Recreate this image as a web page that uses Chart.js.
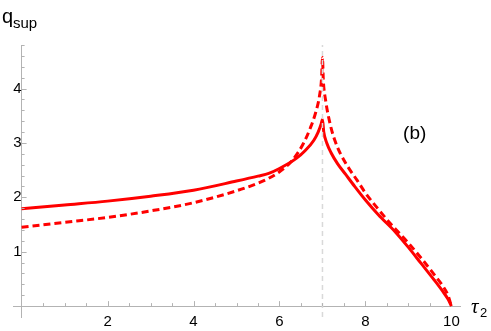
<!DOCTYPE html>
<html>
<head>
<meta charset="utf-8">
<script src="https://cdn.jsdelivr.net/npm/chart.js@4"></script>
<style>
  body { margin: 0; background: #fff; }
  canvas { display: block; }
</style>
</head>
<body>
<canvas id="chart" width="491" height="331"></canvas>
<script>
// solid curve
const solidX = [0, 1, 2, 3, 4, 5, 5.5, 5.75, 6, 6.4, 6.6, 6.8, 6.9, 6.97, 7, 7.03, 7.1, 7.2, 7.35, 7.54, 7.75, 8, 8.3, 8.7, 9, 9.3, 9.6, 9.8, 9.92, 10];
const solidY = [1.79, 1.86, 1.93, 2.02, 2.13, 2.30, 2.39, 2.44, 2.53, 2.72, 2.86, 3.05, 3.20, 3.35, 3.43, 3.20, 3.00, 2.82, 2.62, 2.42, 2.20, 1.95, 1.68, 1.36, 1.08, 0.78, 0.48, 0.27, 0.13, 0];

// dashed curve
const dashedX = [0, 1, 2, 3, 4, 5, 5.5, 5.75, 6, 6.3, 6.55, 6.72, 6.85, 6.93, 6.98, 7, 7.02, 7.07, 7.19, 7.3, 7.42, 7.6, 7.8, 8, 8.3, 8.6, 9, 9.3, 9.6, 9.8, 9.92, 10];
const dashedY = [1.45, 1.54, 1.63, 1.75, 1.90, 2.12, 2.26, 2.35, 2.47, 2.68, 2.98, 3.28, 3.58, 3.86, 4.2, 4.57, 4.15, 3.80, 3.31, 3.02, 2.80, 2.55, 2.32, 2.08, 1.78, 1.50, 1.16, 0.88, 0.58, 0.37, 0.20, 0];

// vertical guide at tau2 = 7
const guideX = [7, 7];
const guideY = [-0.2, 4.8];

const xTickLabels = [2, 4, 6, 8, 10];
const yTickLabels = [1, 2, 3, 4];

const red = '#ff0000';
const axisColor = '#b3b3b3';

Chart.defaults.borderColor = axisColor;

function pts(xs, ys) {
    return xs.map((x, i) => ({ x: x, y: ys[i] }));
}

function stepTicks(from, to, step) {
    const out = [];
    const n = Math.round((to - from) / step);
    for (let i = 0; i <= n; i++) out.push({ value: Math.round((from + i * step) * 100) / 100 });
    return out;
}

// small inward tick marks, axis titles and panel label
const extras = {
    id: 'extras',
    afterDraw(chart) {
        const ctx = chart.ctx;
        const xs = chart.scales.x, ys = chart.scales.y;
        const x0 = xs.getPixelForValue(0), y0 = ys.getPixelForValue(0);

        ctx.strokeStyle = axisColor;
        ctx.lineWidth = 1;
        ctx.setLineDash([]);
        ctx.beginPath();
        xs.ticks.forEach(t => {
            if (t.value <= 0 || t.value >= 10) return;
            const px = Math.round(xs.getPixelForValue(t.value)) + 0.5;
            const len = xTickLabels.includes(t.value) ? 5 : 3;
            ctx.moveTo(px, y0);
            ctx.lineTo(px, y0 - len);
        });
        ys.ticks.forEach(t => {
            if (t.value <= 0) return;
            const py = Math.round(ys.getPixelForValue(t.value)) + 0.5;
            const len = yTickLabels.includes(t.value) ? 5 : 3;
            ctx.moveTo(x0, py);
            ctx.lineTo(x0 + len, py);
        });
        ctx.stroke();

        ctx.fillStyle = '#000';
        ctx.textBaseline = 'alphabetic';
        ctx.textAlign = 'left';
        ctx.font = '20px sans-serif';
        ctx.fillText('q', 2, 23);
        ctx.font = '15px sans-serif';
        ctx.fillText('sup', 13, 27.5);

        ctx.font = 'italic 21px serif';
        ctx.fillText('τ', 471, 313);
        ctx.font = '13px sans-serif';
        ctx.fillText('2', 480, 317);

        ctx.font = '19px sans-serif';
        ctx.textAlign = 'center';
        ctx.textBaseline = 'middle';
        ctx.fillText('(b)', 414.7, 134);
    }
};

new Chart(document.getElementById('chart'), {
    type: 'line',
    data: {
        datasets: [
            {
                data: pts(guideX, guideY),
                borderColor: '#d9d9d9',
                borderWidth: 1.5,
                borderDash: [5, 4],
                pointRadius: 0
            },
            {
                data: pts(solidX, solidY),
                borderColor: red,
                borderWidth: 3,
                pointRadius: 0,
                cubicInterpolationMode: 'monotone'
            },
            {
                data: pts(dashedX, dashedY),
                borderColor: red,
                borderWidth: 3,
                borderDash: [7, 4],
                pointRadius: 0,
                cubicInterpolationMode: 'monotone'
            }
        ]
    },
    options: {
        responsive: false,
        animation: false,
        devicePixelRatio: 1,
        layout: { padding: { left: 13, right: 31, top: 45, bottom: 14 } },
        plugins: { legend: { display: false } },
        scales: {
            x: {
                type: 'linear',
                min: -0.2,
                max: 10.2,
                position: { y: 0 },
                grid: { display: false, drawTicks: false },
                afterBuildTicks: s => { s.ticks = stepTicks(0, 10, 0.5); },
                ticks: {
                    autoSkip: false,
                    maxRotation: 0,
                    padding: 7,
                    color: '#000',
                    font: { family: 'Liberation Sans', size: 15 },
                    callback: v => xTickLabels.includes(v) ? String(v) : ''
                }
            },
            y: {
                type: 'linear',
                min: -0.2,
                max: 4.8,
                position: { x: 0 },
                grid: { display: false, drawTicks: false },
                afterBuildTicks: s => { s.ticks = stepTicks(0, 4.8, 0.2); },
                ticks: {
                    autoSkip: false,
                    padding: 5,
                    color: '#000',
                    font: { family: 'Liberation Sans', size: 15 },
                    callback: v => yTickLabels.includes(v) ? String(v) : ''
                }
            }
        }
    },
    plugins: [extras]
});
</script>
</body>
</html>
